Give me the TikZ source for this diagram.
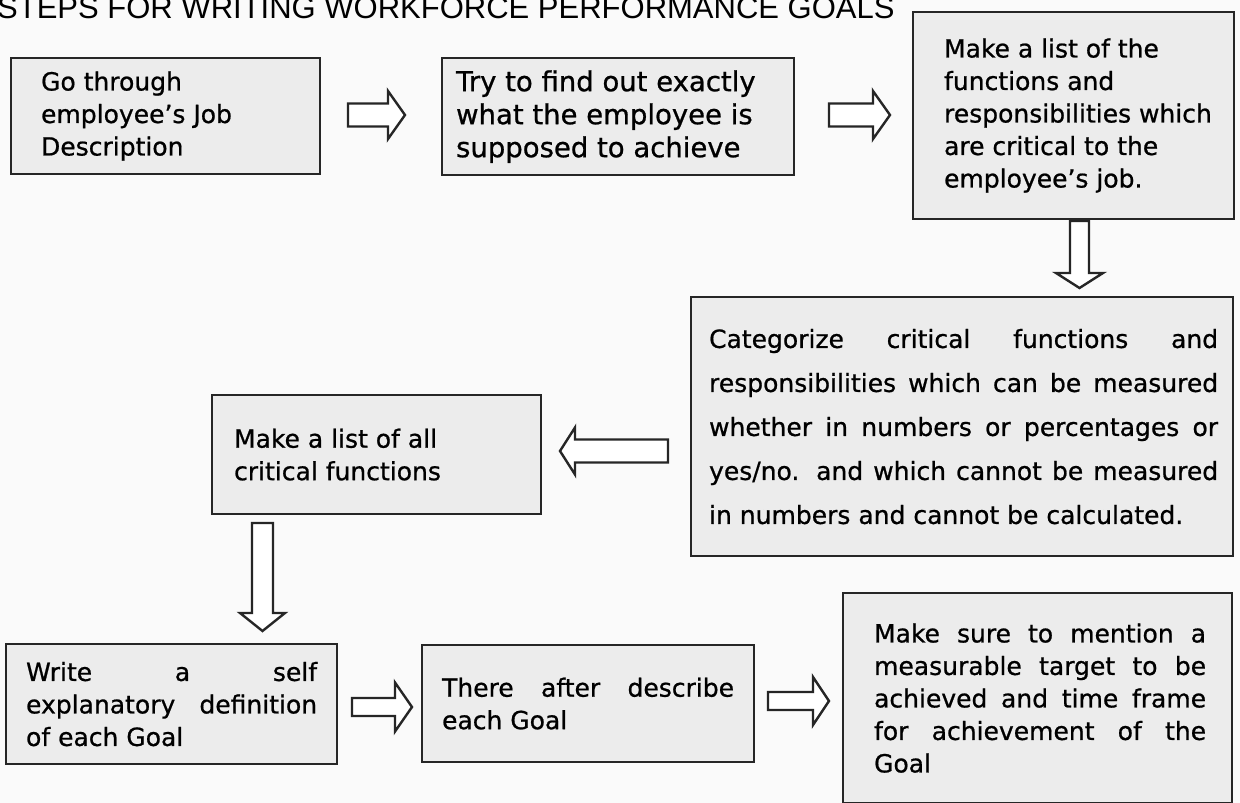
\documentclass[tikz,border=0pt]{standalone}
\usepackage{fontspec}
\setmainfont{DejaVu Sans}[FakeBold=0.8,AutoFakeBold=0.8]
\newfontfamily\titlefont{Liberation Sans}
% box content: total width, left padding, text width, lines
\newcommand\btext[4]{\makebox[#1pt][l]{\hspace*{#2pt}\parbox[c]{#3pt}{\raggedright\bfseries #4}}}
\newcommand\jline[1]{\makebox[\linewidth][s]{#1}}
% right-pointing block arrow: body left, head base, tip, centre y, body half, head half
\newcommand\rblock[6]{\draw[blk] (#1,#4-#5) -- (#2,#4-#5) -- (#2,#4-#6) -- (#3,#4) -- (#2,#4+#6) -- (#2,#4+#5) -- (#1,#4+#5) -- cycle;}
% left-pointing block arrow: body right, head base, tip, centre y, body half, head half
\newcommand\lblock[6]{\draw[blk] (#1,#4-#5) -- (#2,#4-#5) -- (#2,#4-#6) -- (#3,#4) -- (#2,#4+#6) -- (#2,#4+#5) -- (#1,#4+#5) -- cycle;}
% down-pointing block arrow: body top, head base, tip, centre x, body half, head half
\newcommand\dblock[6]{\draw[blk] (#4-#5,#1) -- (#4-#5,#2) -- (#4-#6,#2) -- (#4,#3) -- (#4+#6,#2) -- (#4+#5,#2) -- (#4+#5,#1) -- cycle;}
\definecolor{boxfill}{HTML}{ECECEC}
\definecolor{paper}{HTML}{FAFAFA}
\begin{document}
\begin{tikzpicture}[x=1pt,y=-1pt,
  box/.style={draw=black!85, line width=2.2pt, fill=boxfill, inner sep=0pt, anchor=north west,
    font=\fontsize{25}{32.5}\selectfont},
  blk/.style={draw=black!85, line width=2.4pt, fill=white, line join=miter}]
\useasboundingbox (0,0) rectangle (1240,803);
\clip (0,0) rectangle (1240,803);
\fill[paper] (0,0) rectangle (1240,803);
\node[anchor=base west, inner sep=0pt, font=\titlefont\fontsize{31}{31}\selectfont] (title) at (-3,19)
  {STEPS FOR WRITING WORKFORCE PERFORMANCE GOALS};

\node[box, minimum height=116pt] (b1) at (10,57)
  {\btext{309}{30}{270}{Go through\\employee’s Job\\Description}};
\node[box, minimum height=117pt, font=\fontsize{27.5}{33}\selectfont] (b2) at (441,57)
  {\btext{352}{14}{330}{Try to find out exactly\\what the employee is\\supposed to achieve}};
\node[box, minimum height=207pt] (b3) at (912,11)
  {\btext{321}{31}{285}{Make a list of the\\functions and\\responsibilities which\\are critical to the\\employee’s job.}};
\node[box, minimum height=259pt, font=\fontsize{25}{44}\selectfont] (b4) at (690,296)
  {\btext{542}{18}{509}{\jline{Categorize critical functions and}\\
   \jline{responsibilities which can be measured}\\
   \jline{whether in numbers or percentages or}\\
   \jline{yes/no. and which cannot be measured}\\
   in numbers and cannot be calculated.}};
\node[box, minimum height=119pt] (b5) at (211,394)
  {\btext{329}{22}{295}{Make a list of all\\critical functions}};
\node[box, minimum height=120pt] (b6) at (5,643)
  {\btext{331}{20}{291}{\jline{Write a self}\\\jline{explanatory definition}\\of each Goal}};
\node[box, minimum height=117pt] (b7) at (421,644)
  {\btext{332}{20}{292}{\jline{There after describe}\\each Goal}};
\node[box, minimum height=210pt] (b8) at (842,592)
  {\btext{389}{31}{332}{\jline{Make sure to mention a}\\\jline{measurable target to be}\\
   \jline{achieved and time frame}\\\jline{for achievement of the}\\Goal}};

% block arrows between the steps
\rblock{348}{388}{405}{115}{11.5}{24}
\rblock{829}{873}{890}{115}{11.5}{24}
\dblock{221}{273}{288}{1079.5}{9.5}{23.5}
\lblock{668}{575}{560}{451}{11.5}{23.5}
\dblock{523}{613}{631}{262.5}{10.5}{22.5}
\rblock{352}{395}{412}{707}{9}{24.5}
\rblock{768}{813}{829}{701}{9}{24}
\end{tikzpicture}
\end{document}
